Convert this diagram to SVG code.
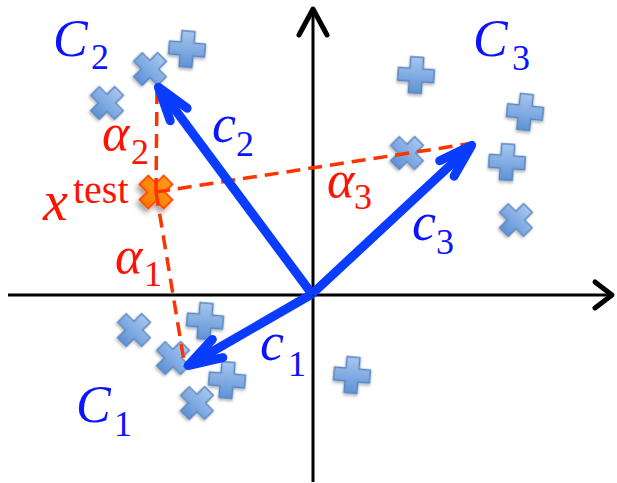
<svg xmlns="http://www.w3.org/2000/svg" xmlns:xlink="http://www.w3.org/1999/xlink" width="617" height="483" viewBox="0 0 617 483">
<style>
.lab{font-family:"Liberation Serif","Times New Roman",serif;font-style:italic;}
.sub{font-family:"Liberation Serif","Times New Roman",serif;font-style:normal;}
.blue{fill:#0a14ff;}
.red{fill:#ff1200;}
.axis{stroke:#000;stroke-width:3;fill:none;}
.axhead{stroke:#000;stroke-width:5;fill:none;stroke-linecap:round;stroke-linejoin:round;}
.vec{stroke:#0a3cff;stroke-width:9;fill:none;marker-end:url(#head);}
.dash{stroke:#ff3300;stroke-width:3.5;fill:none;stroke-dasharray:14 8;}
.pt{fill:url(#g);stroke:#5a85bf;stroke-width:1.5;filter:url(#sh);}
</style>
<defs>
<linearGradient id="g" x1="0" y1="0" x2="0" y2="1">
<stop offset="0" stop-color="#a6c6ef"/>
<stop offset="1" stop-color="#5f93d6"/>
</linearGradient>
<linearGradient id="go" x1="0" y1="0" x2="0" y2="1">
<stop offset="0" stop-color="#ff9a1a"/>
<stop offset="1" stop-color="#ff7a00"/>
</linearGradient>
<filter id="sh" x="-40%" y="-40%" width="180%" height="180%">
<feDropShadow dx="0" dy="2" stdDeviation="1.5" flood-color="#000" flood-opacity="0.3"/>
</filter>
<filter id="sh2" x="-60%" y="-60%" width="220%" height="220%">
<feDropShadow dx="1" dy="5" stdDeviation="3" flood-color="#000" flood-opacity="0.35"/>
</filter>
<path id="plus" d="M-6.5,-18H6.5V-6.5H18V6.5H6.5V18H-6.5V6.5H-18V-6.5H-6.5Z"/>
<marker id="head" markerUnits="userSpaceOnUse" orient="auto" overflow="visible" markerWidth="1" markerHeight="1" refX="0" refY="0">
<path d="M-33,-10.5L1,0L-33,10.5" fill="none" stroke="#0a3cff" stroke-width="9" stroke-linecap="round" stroke-linejoin="round"/>
</marker>
</defs>

<g id="axes">
<line class="axis" x1="8" y1="295" x2="610" y2="295"/>
<path class="axhead" d="M595,282L612,295L595,308"/>
<line class="axis" x1="313" y1="482" x2="313" y2="11"/>
<path class="axhead" d="M299,35L313,9L327,35"/>
</g>

<g id="points">
<use class="pt" xlink:href="#plus" href="#plus" transform="translate(150,69) rotate(45) scale(0.94)"/>
<use class="pt" xlink:href="#plus" href="#plus" transform="translate(187,49) rotate(5)"/>
<use class="pt" xlink:href="#plus" href="#plus" transform="translate(107,103) rotate(45) scale(0.94)"/>
<use class="pt" xlink:href="#plus" href="#plus" transform="translate(416,75) rotate(4)"/>
<use class="pt" xlink:href="#plus" href="#plus" transform="translate(525,112) rotate(6)"/>
<use class="pt" xlink:href="#plus" href="#plus" transform="translate(407,153) rotate(45) scale(0.94)"/>
<use class="pt" xlink:href="#plus" href="#plus" transform="translate(507,162) rotate(4)"/>
<use class="pt" xlink:href="#plus" href="#plus" transform="translate(516,220) rotate(45) scale(0.94)"/>
<use class="pt" xlink:href="#plus" href="#plus" transform="translate(134,330) rotate(45) scale(0.94)"/>
<use class="pt" xlink:href="#plus" href="#plus" transform="translate(205,321) rotate(5)"/>
<use class="pt" xlink:href="#plus" href="#plus" transform="translate(173,358) rotate(45) scale(0.94)"/>
<use class="pt" xlink:href="#plus" href="#plus" transform="translate(227,380) rotate(5)"/>
<use class="pt" xlink:href="#plus" href="#plus" transform="translate(197,403) rotate(45) scale(0.94)"/>
<use class="pt" xlink:href="#plus" href="#plus" transform="translate(352,375) rotate(5)"/>
</g>

<g id="xtest">
<use xlink:href="#plus" href="#plus" fill="url(#go)" stroke="#ff4a00" stroke-width="2" filter="url(#sh2)" transform="translate(156,192) rotate(45) scale(0.95)"/>
</g>

<g id="connectors">
<line class="dash" x1="156" y1="192" x2="157" y2="87"/>
<line class="dash" x1="156" y1="192" x2="474" y2="143"/>
<line class="dash" x1="156" y1="192" x2="185" y2="367"/>
<line class="vec" x1="312" y1="294" x2="159" y2="88"/>
<line class="vec" x1="312" y1="294" x2="471" y2="146"/>
<line class="vec" x1="312" y1="294" x2="189" y2="365"/>
</g>

<g id="C2"><text class="lab blue" x="53" y="56" font-size="52">C</text><text class="sub blue" x="91" y="69" font-size="36">2</text></g>
<g id="C3"><text class="lab blue" x="473" y="56" font-size="52">C</text><text class="sub blue" x="512" y="70" font-size="36">3</text></g>
<g id="C1"><text class="lab blue" x="76" y="422" font-size="52">C</text><text class="sub blue" x="114" y="436" font-size="36">1</text></g>
<g id="c2"><text class="lab blue" x="212" y="142" font-size="54">c</text><text class="sub blue" x="236" y="156" font-size="36">2</text></g>
<g id="c3"><text class="lab blue" x="412" y="240" font-size="54">c</text><text class="sub blue" x="436" y="254" font-size="36">3</text></g>
<g id="c1"><text class="lab blue" x="260" y="360" font-size="54">c</text><text class="sub blue" x="288" y="376" font-size="36">1</text></g>
<g id="a2"><text class="lab red" x="102" y="150" font-size="52">α</text><text class="sub red" x="131" y="164" font-size="36">2</text></g>
<g id="a1"><text class="lab red" x="115" y="273" font-size="52">α</text><text class="sub red" x="144" y="286" font-size="36">1</text></g>
<g id="a3"><text class="lab red" x="327" y="197" font-size="52">α</text><text class="sub red" x="354" y="209" font-size="36">3</text></g>
<g id="xt"><text class="lab red" x="43" y="220" font-size="56">x</text><text class="sub red" x="73" y="203" font-size="40">test</text></g>
</svg>
